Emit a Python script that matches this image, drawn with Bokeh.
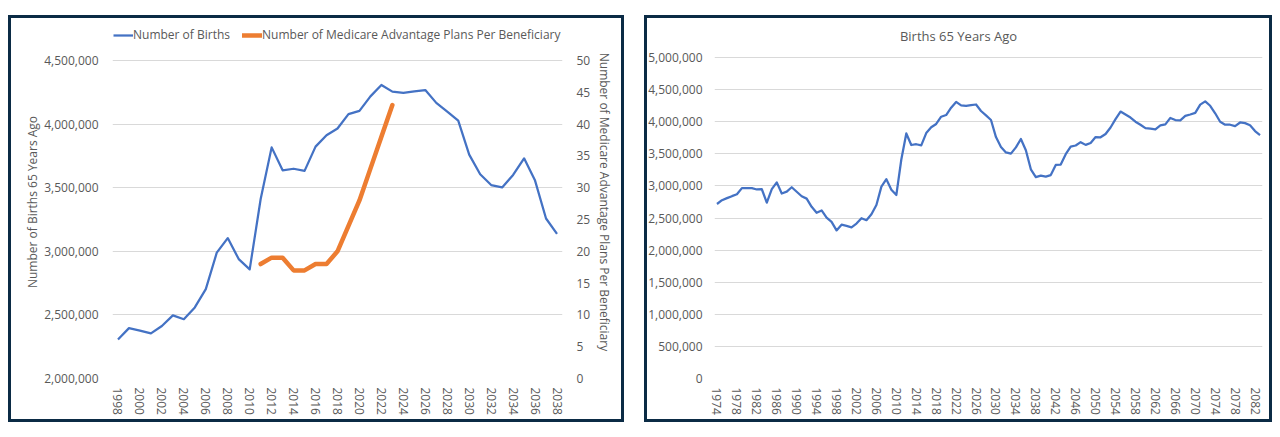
from bokeh.plotting import figure
from bokeh.models import (ColumnDataSource, LinearAxis, Range1d, FixedTicker,
                          NumeralTickFormatter, Legend, LegendItem, Spacer, Label)
from bokeh.layouts import row
from bokeh.embed import file_html
from bokeh.resources import INLINE

# ---------------- data ----------------
years_all = list(range(1974, 2084))
births_65_years_ago = [
    2718000, 2777000, 2809000, 2840000, 2869000, 2966000, 2965000, 2964000, 2944000, 2948000,
    2740000, 2950000, 3055000, 2882000, 2910000, 2979000, 2909000, 2839000, 2802000, 2674000,
    2582000, 2618000, 2506000, 2440000, 2307000, 2396000, 2377000, 2355000, 2413000, 2496000,
    2466000, 2559000, 2703000, 2989000, 3104000, 2939000, 2858000, 3411000, 3817000, 3637000,
    3649000, 3632000, 3823000, 3913000, 3965000, 4078000, 4104000, 4218000, 4308000, 4255000,
    4245000, 4258000, 4268000, 4167000, 4098000, 4027000, 3760000, 3606000, 3521000, 3502000,
    3600000, 3731000, 3556000, 3258000, 3137000, 3160000, 3144000, 3168000, 3327000, 3333000,
    3494000, 3612000, 3629000, 3681000, 3639000, 3669000, 3761000, 3757000, 3809000, 3910000,
    4041000, 4158000, 4111000, 4065000, 4000000, 3953000, 3900000, 3891000, 3881000, 3942000,
    3959000, 4059000, 4026000, 4022000, 4090000, 4112000, 4138000, 4266000, 4316000, 4248000,
    4131000, 3999000, 3954000, 3953000, 3932000, 3988000, 3978000, 3946000, 3855000, 3792000,
]
left_years = list(range(1998, 2039))
left_births = births_65_years_ago[left_years[0] - years_all[0]: left_years[-1] - years_all[0] + 1]

ma_years = list(range(2011, 2024))
ma_plans = [18, 19, 19, 17, 17, 18, 18, 20, 24, 28, 33, 38, 43]

left_y_ticks = [2000000, 2500000, 3000000, 3500000, 4000000, 4500000]
right_axis_ticks = list(range(0, 51, 5))
left_x_ticks = list(range(1998, 2039, 2))
right_y_ticks = list(range(0, 5000001, 500000))
right_x_ticks = list(range(1974, 2083, 4))

# ---------------- style ----------------
FONT = "Open Sans"
TXT = "#595959"
GRID = "#d9d9d9"
BLUE = "#4472C4"
ORANGE = "#ED7D31"
NAVY = "#0b2b45"
TOP_GAP = 15
# dark panel frame painted as host background, starting TOP_GAP px below the top of the figure
g = f"linear-gradient({NAVY},{NAVY})"
FRAME_STYLE = {"background": (f"{g} 0 {TOP_GAP}px / 100% 3px no-repeat, {g} 0 100% / 100% 3px no-repeat, "
                              f"{g} 0 {TOP_GAP}px / 3px calc(100% - {TOP_GAP}px) no-repeat, "
                              f"{g} 100% {TOP_GAP}px / 3px calc(100% - {TOP_GAP}px) no-repeat, white")}

H = 422
B_TOP, B_BOTTOM = 25, 44
frame_h = H - B_TOP - B_BOTTOM


def style_axis(ax, standoff, label_standoff=3):
    ax.axis_line_color = None
    ax.major_tick_line_color = None
    ax.minor_tick_line_color = None
    ax.major_tick_out = 0
    ax.major_tick_in = 0
    ax.minor_tick_out = 0
    ax.minor_tick_in = 0
    ax.major_label_standoff = standoff
    ax.major_label_text_font = FONT
    ax.major_label_text_font_size = "12px"
    ax.major_label_text_color = TXT
    ax.axis_label_text_font = FONT
    ax.axis_label_text_font_size = "12px"
    ax.axis_label_text_font_style = "normal"
    ax.axis_label_text_color = TXT
    ax.axis_label_standoff = label_standoff


# ---------------- left chart ----------------
# frame extends above the top gridline so the legend sits inside it
grid_top_1 = 60
data_h1 = H - grid_top_1 - B_BOTTOM
y0, y1 = 2000000, 4500000
y_end1 = y0 + (y1 - y0) * frame_h / data_h1
r_end1 = 50 * frame_h / data_h1

src_b = ColumnDataSource(dict(year=left_years, births=left_births))
src_m = ColumnDataSource(dict(year=ma_years, plans=ma_plans))

p1 = figure(width=616, height=H, output_backend="svg", toolbar_location=None,
            x_range=Range1d(1997.5, 2038.5), y_range=Range1d(y0, y_end1),
            min_border_left=104, min_border_right=62, min_border_top=B_TOP,
            min_border_bottom=B_BOTTOM, styles=FRAME_STYLE)
p1.border_fill_alpha = 0
p1.outline_line_color = None
p1.xgrid.grid_line_color = None
p1.ygrid.grid_line_color = GRID
p1.extra_y_ranges = {"plans": Range1d(0, r_end1)}

p1.xaxis.ticker = FixedTicker(ticks=left_x_ticks)
p1.xaxis.major_label_orientation = "vertical"
style_axis(p1.xaxis[0], 9)
p1.yaxis.ticker = FixedTicker(ticks=left_y_ticks)
p1.yaxis.formatter = NumeralTickFormatter(format="0,0")
p1.yaxis.axis_label = "Number of Births 65 Years Ago"
style_axis(p1.yaxis[0], 14, 0)

ax_r = LinearAxis(y_range_name="plans", ticker=FixedTicker(ticks=right_axis_ticks),
                  axis_label="Number of Medicare Advantage Plans Per Beneficiary")
style_axis(ax_r, 14, 3)
p1.add_layout(ax_r, "right")

rb = p1.line("year", "births", source=src_b, line_color=BLUE, line_width=2.25, line_join="round")
rm = p1.line("year", "plans", source=src_m, y_range_name="plans", line_color=ORANGE,
             line_width=4.5, line_join="round", line_cap="round")

leg = Legend(items=[LegendItem(label="Number of Births", renderers=[rb]),
                    LegendItem(label="Number of Medicare Advantage Plans Per Beneficiary", renderers=[rm])],
             orientation="horizontal", location=(1, frame_h - 18), glyph_width=20, glyph_height=16,
             label_height=16, label_standoff=0, spacing=12, padding=0, margin=0,
             border_line_color=None, background_fill_alpha=0,
             label_text_font=FONT, label_text_font_size="12px", label_text_color=TXT)
p1.add_layout(leg, "center")

# ---------------- right chart ----------------
W2, BL2, BR2 = 628, 70, 10
grid_top_2 = 57
data_h2 = H - grid_top_2 - B_BOTTOM
y_end2 = 5000000 * frame_h / data_h2
x_start2, x_end2 = 1973.5, 2083.5

src_all = ColumnDataSource(dict(year=years_all, births=births_65_years_ago))

p2 = figure(width=W2, height=H, output_backend="svg", toolbar_location=None,
            x_range=Range1d(x_start2, x_end2), y_range=Range1d(0, y_end2),
            min_border_left=BL2, min_border_right=BR2, min_border_top=B_TOP,
            min_border_bottom=B_BOTTOM, styles=FRAME_STYLE)
p2.border_fill_alpha = 0
p2.outline_line_color = None
p2.xgrid.grid_line_color = None
p2.ygrid.grid_line_color = GRID

# chart title placed inside the (extended) frame, centred over the chart area
fw2 = W2 - BL2 - BR2
title_x = x_start2 + (314 - BL2) * (x_end2 - x_start2) / fw2
title_y = y_end2 - 10 * y_end2 / frame_h
p2.add_layout(Label(x=title_x, y=title_y, text="Births 65 Years Ago", text_align="center",
                    text_baseline="middle", text_font=FONT, text_font_size="13px",
                    text_color=TXT))

p2.xaxis.ticker = FixedTicker(ticks=right_x_ticks)
p2.xaxis.major_label_orientation = "vertical"
style_axis(p2.xaxis[0], 9)
p2.yaxis.ticker = FixedTicker(ticks=right_y_ticks)
p2.yaxis.formatter = NumeralTickFormatter(format="0,0")
style_axis(p2.yaxis[0], 12)

p2.line("year", "births", source=src_all, line_color=BLUE, line_width=2.25, line_join="round")

layout = row(Spacer(width=8, height=10), p1, Spacer(width=20, height=10), p2)

open("out.html", "w").write(file_html(layout, INLINE))
